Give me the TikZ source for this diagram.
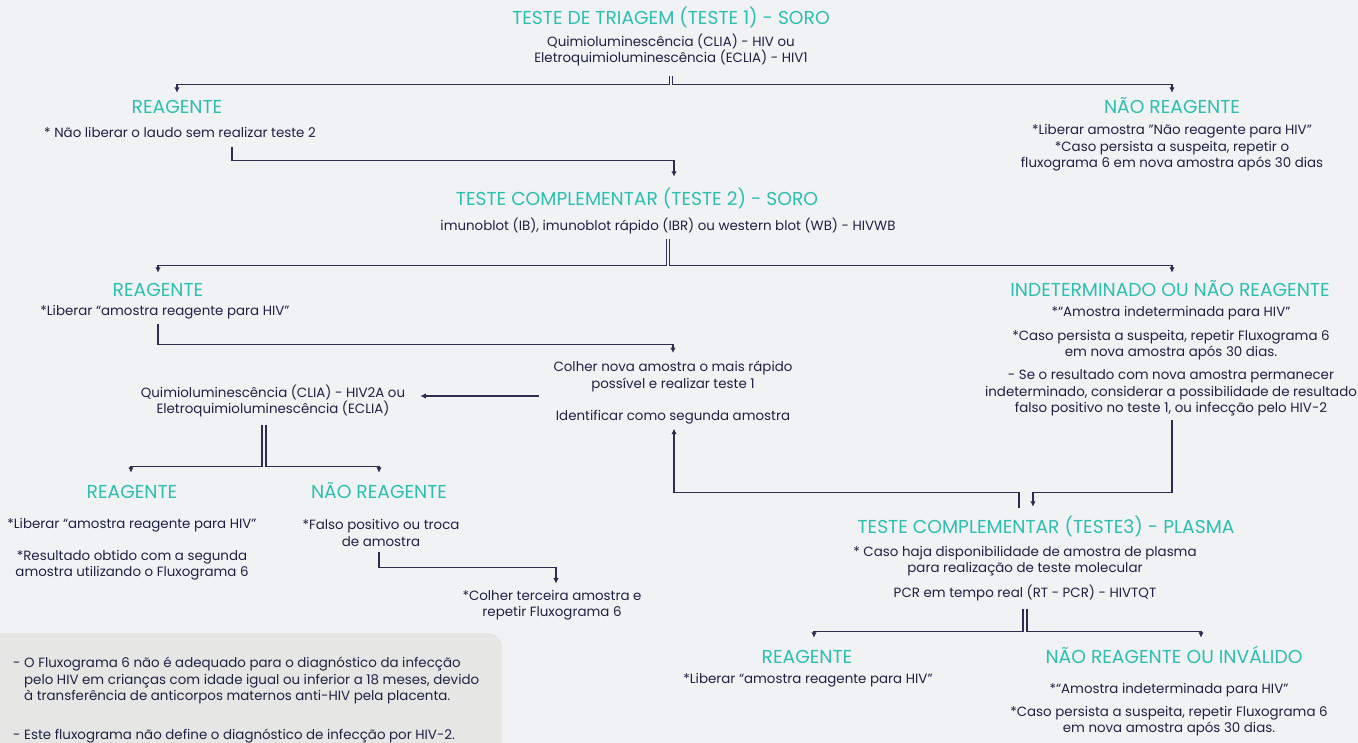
\documentclass[tikz,border=0pt]{standalone}
\usepackage{fontspec}
\setmainfont{Poppins}
\usetikzlibrary{arrows.meta}
\definecolor{bgcol}{HTML}{F1F2F4}
\definecolor{notecol}{HTML}{E6E7E4}
\definecolor{tealcol}{HTML}{2CBFAF}
\definecolor{inkcol}{HTML}{1E2146}
\definecolor{linecol}{HTML}{2B2E50}
\begin{document}
\begin{tikzpicture}[x=1pt,y=-1pt,
  head/.style={text=tealcol, font=\headfont, inner sep=0pt, text height=13pt, text depth=0pt},
  txt/.style={text=inkcol, font=\bodyfont, align=center, inner sep=0pt},
  link/.style={draw=linecol, line width=1.1pt},
  arr/.style={link, -{Latex[length=5.5pt,width=5.5pt]}}]
\def\headfont{\fontsize{18.7}{22}\selectfont}
\def\bodyfont{\fontsize{13.4}{16.5}\selectfont}

\useasboundingbox (0,0) rectangle (1358,743);
\fill[bgcol] (0,0) rectangle (1358,743);
\fill[notecol, rounded corners=14pt] (-20,633) rectangle (502,790);

% teste 1
\node[head] (t1) at (671,18) {TESTE DE TRIAGEM (TESTE 1) - SORO};
\node[txt] (t1b) at (671,50) {Quimioluminescência (CLIA) - HIV ou\\Eletroquimioluminescência (ECLIA) - HIV1};

\node[head] (r1) at (177,107) {REAGENTE};
\node[txt] (r1b) at (180,132) {* Não liberar o laudo sem realizar teste 2};

\node[head] (n1) at (1172,107) {NÃO REAGENTE};
\node[txt] (n1b) at (1172,148) {*Liberar amostra \symbol{34}Não reagente para HIV”\\*Caso persista a suspeita, repetir o\\fluxograma 6 em nova amostra após 30 dias};

% teste 2
\node[head] (t2) at (637,199) {TESTE COMPLEMENTAR (TESTE 2) - SORO};
\node[txt] (t2b) at (668,226) {imunoblot (IB), imunoblot rápido (IBR) ou western blot (WB) - HIVWB};

\node[head] (r2) at (158,290) {REAGENTE};
\node[txt] (r2b) at (165,312) {*Liberar “amostra reagente para HIV”};

\node[head] (i2) at (1170,290) {INDETERMINADO OU NÃO REAGENTE};
\node[txt] (i2a) at (1171,313) {*“Amostra indeterminada para HIV”};
\node[txt] (i2b) at (1171,345) {*Caso persista a suspeita, repetir Fluxograma 6\\em nova amostra após 30 dias.};
\node[txt] (i2c) at (1171,393) {- Se o resultado com nova amostra permanecer\\indeterminado, considerar a possibilidade de resultado\\falso positivo no teste 1, ou infecção pelo HIV-2};

\node[txt] (colA) at (673,376.5) {Colher nova amostra o mais rápido\\possível e realizar teste 1};
\node[txt] (colB) at (673,417) {Identificar como segunda amostra};

% segunda amostra
\node[txt] (q2) at (273,401) {Quimioluminescência (CLIA) - HIV2A ou\\Eletroquimioluminescência (ECLIA)};

\node[head] (r3) at (132,492) {REAGENTE};
\node[txt] (r3a) at (132,525) {*Liberar “amostra reagente para HIV”};
\node[txt] (r3b) at (132,565) {*Resultado obtido com a segunda\\amostra utilizando o Fluxograma 6};

\node[head] (n3) at (379,492) {NÃO REAGENTE};
\node[txt] (n3b) at (381,533) {*Falso positivo ou troca\\de amostra};
\node[txt] (ter) at (552,605) {*Colher terceira amostra e\\repetir Fluxograma 6};

% teste 3
\node[head] (t3) at (1046,527) {TESTE COMPLEMENTAR (TESTE3) - PLASMA};
\node[txt] (t3a) at (1025,561) {* Caso haja disponibilidade de amostra de plasma\\para realização de teste molecular};
\node[txt] (t3b) at (1025,593) {PCR em tempo real (RT - PCR) - HIVTQT};

\node[head] (r4) at (807,657) {REAGENTE};
\node[txt] (r4b) at (808,680) {*Liberar “amostra reagente para HIV”};

\node[head] (n4) at (1174,657) {NÃO REAGENTE OU INVÁLIDO};
\node[txt] (n4a) at (1169,690) {*“Amostra indeterminada para HIV”};
\node[txt] (n4b) at (1169,721) {*Caso persista a suspeita, repetir Fluxograma 6\\em nova amostra após 30 dias.};

% nota
\node[txt, align=left, anchor=north west] (note) at (13,657) {- O Fluxograma 6 não é adequado para o diagnóstico da infecção\\\phantom{- }pelo HIV em crianças com idade igual ou inferior a 18 meses, devido\\\phantom{- }à transferência de anticorpos maternos anti-HIV pela placenta.\\[22pt]- Este fluxograma não define o diagnóstico de infecção por HIV-2.};

% ligacoes
\draw[arr] ([xshift=-1.7pt]t1b.south) ++(0,10) -- ++(0,8) -| ([yshift=7.5pt]r1.north);
\draw[arr] ([xshift=1.7pt]t1b.south) ++(0,10) -- ++(0,8) -| ([yshift=7.5pt]n1.north);
\draw[arr] ([xshift=52pt]r1b.south) ++(0,10) -- ++(0,13) -| ([xshift=37pt,yshift=15.5pt]t2.north);

\draw[arr] ([xshift=-1.7pt]t2b.south) ++(0,5) -- ++(0,26) -| ([yshift=10.5pt]r2.north);
\draw[arr] ([xshift=1.7pt]t2b.south) ++(0,5) -- ++(0,26) -| ([xshift=2pt,yshift=10.5pt]i2.north);
\draw[arr] ([xshift=-7pt]r2b.south) ++(0,4.5) -- ++(0,21) -| ([yshift=8pt]colA.north);

\draw[arr] ([xshift=-14.5pt,yshift=5pt]colA.west |- q2.east) -- ([xshift=15pt,yshift=5pt]q2.east);
\draw[arr] ([xshift=-11pt]q2.south) ++(0,8) -- ++(0,41) -| ([xshift=-1pt,yshift=12.5pt]r3.north);
\draw[arr] ([xshift=-7pt]q2.south) ++(0,8) -- ++(0,41) -| ([yshift=12.5pt]n3.north);
\draw[arr] ([xshift=-2pt]n3b.south) ++(0,5) -- ++(0,16) -| ([xshift=4pt,yshift=6pt]ter.north);

\draw[arr] ([xshift=1pt]i2c.south) ++(0,3.5) -- ++(0,73) -| ([xshift=-13pt,yshift=13.5pt]t3.north);
\draw[arr] ([xshift=-27pt]t3.north) ++(0,-12.5) -- ++(0,-15) -| ([xshift=1pt,yshift=-4.5pt]colB.south);

\draw[arr] ([xshift=-2pt]t3b.south) ++(0,7.5) -- ++(0,23) -| ([xshift=7pt,yshift=12.5pt]r4.north);
\draw[arr] ([xshift=2pt]t3b.south) ++(0,7.5) -- ++(0,23) -| ([xshift=27pt,yshift=12.5pt]n4.north);
\end{tikzpicture}
\end{document}
